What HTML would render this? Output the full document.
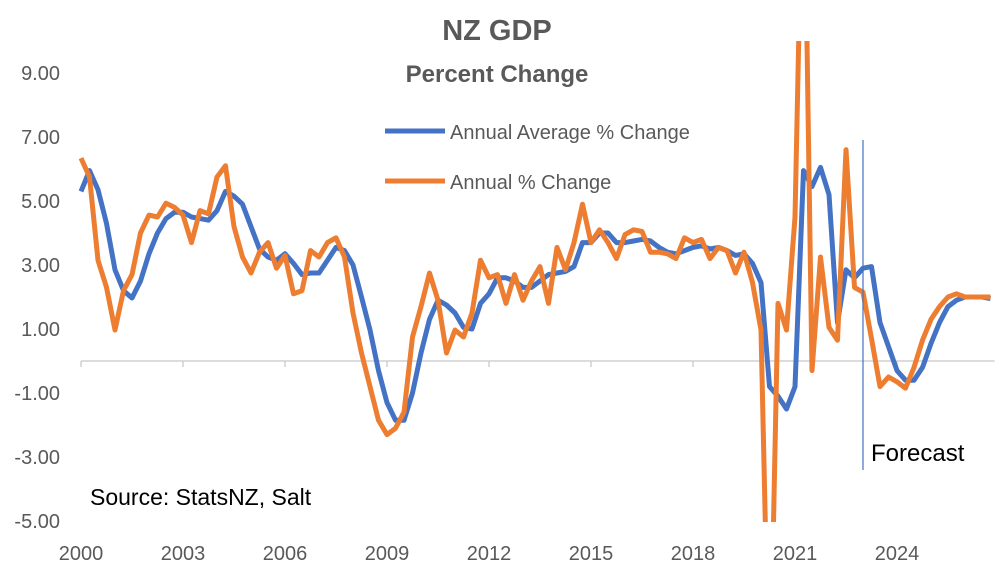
<!DOCTYPE html>
<html><head><meta charset="utf-8"><style>
html,body{margin:0;padding:0;width:996px;height:578px;overflow:hidden;background:#fff;}
svg{display:block;font-family:"Liberation Sans",Calibri,sans-serif;}
</style></head><body>
<svg id="chart" width="996" height="578" viewBox="0 0 996 578">
<defs><clipPath id="plotClip"><rect x="60" y="41" width="936" height="481"/></clipPath></defs>
<text x="497" y="40" text-anchor="middle" font-size="29" font-weight="bold" fill="#595959">NZ GDP</text>
<text x="497" y="82" text-anchor="middle" font-size="24" font-weight="bold" fill="#595959">Percent Change</text>
<g id="yaxis"></g>
<g id="xaxis"></g>
<g id="series" clip-path="url(#plotClip)"></g>
<line x1="863" y1="140" x2="863" y2="470" stroke="#4472C4" stroke-width="1.2"/>
<text x="871" y="461" font-size="24" fill="#000">Forecast</text>
<text x="90" y="505" font-size="23" fill="#000">Source: StatsNZ, Salt</text>
<g>
<line x1="385" y1="131" x2="445" y2="131" stroke="#4472C4" stroke-width="5"/>
<text x="450" y="139" font-size="20" fill="#595959">Annual Average % Change</text>
<line x1="385" y1="181" x2="445" y2="181" stroke="#ED7D31" stroke-width="5"/>
<text x="450" y="189" font-size="20" fill="#595959">Annual % Change</text>
</g>
</svg>
<script>
const yTicks=[9,7,5,3,1,-1,-3,-5];
const yTickLabels=["9.00","7.00","5.00","3.00","1.00","-1.00","-3.00","-5.00"];
const xTickYears=[2000,2003,2006,2009,2012,2015,2018,2021,2024];
const startYear=2000;
const annualAverage=[5.3,5.95,5.35,4.3,2.85,2.2,1.97,2.5,3.35,4.0,4.45,4.65,4.65,4.5,4.45,4.4,4.7,5.3,5.15,4.9,4.2,3.5,3.25,3.15,3.35,3.05,2.7,2.75,2.75,3.15,3.55,3.45,3.0,2.0,0.97,-0.3,-1.3,-1.85,-1.85,-1.0,0.25,1.3,1.9,1.75,1.5,1.05,1.0,1.8,2.1,2.6,2.6,2.5,2.3,2.3,2.5,2.7,2.75,2.8,2.95,3.7,3.7,4.0,4.0,3.7,3.7,3.75,3.8,3.75,3.55,3.4,3.35,3.45,3.55,3.6,3.5,3.55,3.45,3.3,3.35,3.05,2.45,-0.8,-1.1,-1.5,-0.8,5.95,5.45,6.05,5.2,1.2,2.85,2.6,2.9,2.95,1.2,0.45,-0.3,-0.6,-0.6,-0.2,0.55,1.2,1.7,1.9,2.0,2.0,2.0,1.95];
const annualChange=[6.34,5.75,3.15,2.3,0.97,2.2,2.7,4.0,4.56,4.5,4.93,4.8,4.56,3.7,4.7,4.6,5.75,6.1,4.2,3.25,2.75,3.4,3.7,2.9,3.3,2.1,2.2,3.45,3.25,3.7,3.85,3.25,1.5,0.25,-0.8,-1.85,-2.3,-2.1,-1.6,0.75,1.7,2.75,1.9,0.25,0.97,0.75,1.5,3.15,2.6,2.7,1.8,2.7,1.9,2.5,2.95,1.8,3.55,2.85,3.7,4.9,3.7,4.1,3.7,3.2,3.95,4.1,4.05,3.4,3.4,3.35,3.2,3.85,3.7,3.8,3.2,3.55,3.45,2.75,3.4,2.45,0.97,-11,1.8,0.97,4.5,17,-0.3,3.25,1.05,0.65,6.6,2.3,2.15,0.7,-0.8,-0.5,-0.65,-0.85,-0.2,0.65,1.3,1.7,2.0,2.1,2.0,2.0,2.0,2.0];
const NS="http://www.w3.org/2000/svg";
const x0=81,step=8.5,zeroY=361,unit=32;
const yMinPx=36,yMaxPx=527;
function xScale(i){return x0+i*step;}
function yScale(v){return zeroY-v*unit;}
function mk(tag,attrs,parent){const e=document.createElementNS(NS,tag);for(const k in attrs)e.setAttribute(k,attrs[k]);parent.appendChild(e);return e;}
const yaxis=document.getElementById('yaxis');
yTicks.forEach((v,k)=>{
  const t=mk('text',{x:60,y:yScale(v)+7,'text-anchor':'end','font-size':20,fill:'#595959'},yaxis);
  
  
  t.textContent=yTickLabels[k];
});
const xaxis=document.getElementById('xaxis');
const n=annualAverage.length;
const base=mk('line',{x1:x0,y1:zeroY,x2:xScale(n-1)+4,y2:zeroY,stroke:'#d0d0d0','stroke-width':1.5},xaxis);


xTickYears.forEach(yr=>{
  const i=(yr-startYear)*4;const x=xScale(i);
  const tk=mk('line',{x1:x,y1:zeroY,x2:x,y2:zeroY+6,stroke:'#d0d0d0','stroke-width':1.5},xaxis);
  
  
  const t=mk('text',{x:x,y:560,'text-anchor':'middle','font-size':20,fill:'#595959'},xaxis);
  
  
  t.textContent=yr;
});
// clip polyline vertically to [yMinPx, yMaxPx] by inserting boundary crossings
function clippedPoints(arr){
  const raw=arr.map((v,i)=>[xScale(i),yScale(v)]);
  const out=[];
  const inside=p=>p[1]>=yMinPx&&p[1]<=yMaxPx;
  const clampY=y=>Math.max(yMinPx,Math.min(yMaxPx,y));
  for(let k=0;k<raw.length;k++){
    const p=raw[k];
    if(k>0){
      const a=raw[k-1];
      [yMinPx,yMaxPx].forEach(b=>{
        if((a[1]-b)*(p[1]-b)<0){
          const t=(b-a[1])/(p[1]-a[1]);
          out.push([a[0]+t*(p[0]-a[0]),b]);
        }
      });
    }
    if(inside(p)) out.push(p);
    else if(k===0||k===raw.length-1) out.push([p[0],clampY(p[1])]);
  }
  return out;
}
const series=document.getElementById('series');
function drawLine(arr,color,name){
  const pts=clippedPoints(arr);
  const d=pts.map((p,i)=>(i?'L':'M')+p[0].toFixed(1)+' '+p[1].toFixed(1)).join(' ');
  const p=mk('path',{d:d,fill:'none',stroke:color,'stroke-width':5,'stroke-linejoin':'round'},series);
  
  
}
drawLine(annualAverage,'#4472C4','annual-average-line');
drawLine(annualChange,'#ED7D31','annual-change-line');
</script>
</body></html>
